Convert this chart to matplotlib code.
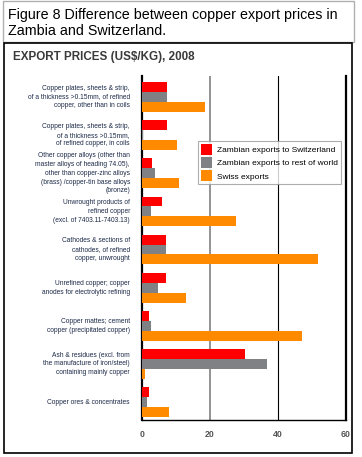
import numpy as np
import matplotlib
matplotlib.use("Agg")
import matplotlib.pyplot as plt
from matplotlib.patches import Rectangle, Patch

plt.rcParams['font.family'] = ['Liberation Sans Narrow', 'Liberation Sans', 'DejaVu Sans']

categories = [
    "Copper plates, sheets & strip,\nof a thickness >0.15mm, of refined\ncopper, other than in coils",
    "Copper plates, sheets & strip,\nof a thickness >0.15mm,\nof refined copper, in coils",
    "Other copper alloys (other than\nmaster alloys of heading 74.05),\nother than copper-zinc alloys\n(brass) /copper-tin base alloys\n(bronze)",
    "Unwrought products of\nrefined copper\n(excl. of 7403.11-7403.13)",
    "Cathodes & sections of\ncathodes, of refined\ncopper, unwrought",
    "Unrefined copper; copper\nanodes for electrolytic refining",
    "Copper mattes; cement\ncopper (precipitated copper)",
    "Ash & residues (excl. from\nthe manufacture of iron/steel)\ncontaining mainly copper",
    "Copper ores & concentrates",
]
zambia_to_swiss = [7.3, 7.3, 3.0, 5.8, 7.0, 7.0, 2.2, 30.2, 2.2]
zambia_to_rest = [7.3, 0.3, 3.8, 2.6, 7.0, 4.7, 2.7, 36.7, 1.6]
swiss_exports = [18.5, 10.3, 10.9, 27.6, 51.8, 13.0, 47.2, 0.9, 7.8]
series_names = ["Zambian exports to Switzerland", "Zambian exports to rest of world", "Swiss exports"]
colors = ["#ff0000", "#808184", "#ff8a00"]
xticks = [0, 20, 40, 60]

W, H = 362, 457
fig = plt.figure(figsize=(W / 100, H / 100), dpi=100)

# caption box and chart frame
fig.patches.append(Rectangle((3 / W, 1 - 42 / H), 351 / W, 41 / H, transform=fig.transFigure,
                             fill=False, edgecolor="#b0b0b0", linewidth=1))
fig.patches.append(Rectangle((4 / W, 1 - 453 / H), 348 / W, 410 / H, transform=fig.transFigure,
                             fill=False, edgecolor="black", linewidth=1.2))
fig.text(8 / W, 1 - 23 / H, "Figure 8 Difference between copper export prices in\nZambia and Switzerland.",
         fontsize=10.3, family=['Liberation Sans', 'DejaVu Sans'], va="center", ha="left",
         linespacing=1.2, color="black")
fig.text(13 / W, 1 - 57 / H, "EXPORT PRICES (US$/KG), 2008", fontsize=8.4, fontweight="bold",
         color="#3a3a3a", va="center", ha="left")

ax = fig.add_axes([142 / W, 1 - 420 / H, 204 / W, 344 / H])
y = np.arange(len(categories))
h = 0.26
for i, (vals, c, name) in enumerate(zip([zambia_to_swiss, zambia_to_rest, swiss_exports], colors, series_names)):
    ax.barh(y + (i - 1) * h, vals, height=h, color=c, label=name, zorder=3)

ax.set_xlim(0, 60)
ax.set_ylim(8.47, -0.55)
ax.axvline(20, color="#8a8a8a", linewidth=1.3, zorder=1)
ax.axvline(40, color="black", linewidth=0.8, zorder=1)
ax.set_yticks([])
ax.set_xticks(xticks)
ax.set_xticklabels([str(t) for t in xticks], fontsize=6.3, color="#555555", fontweight="bold")
ax.tick_params(axis="x", length=0, pad=7)
ax.spines["top"].set_visible(False)
ax.spines["left"].set_linewidth(1.6)
ax.spines["right"].set_linewidth(1.6)
ax.spines["bottom"].set_linewidth(1.0)

for yi, lab in zip(y, categories):
    ax.text(-0.059, yi, lab, transform=ax.get_yaxis_transform(), ha="right", va="center",
            fontsize=4.8, color="#1c2a48", linespacing=1.35, multialignment="right")

handles = [Patch(facecolor=c, edgecolor="none") for c in colors]
leg = ax.legend(handles, series_names, loc="upper left", bbox_to_anchor=(0.275, 0.811),
                fontsize=6, frameon=True, fancybox=False, edgecolor="#999999",
                handlelength=1.4, handleheight=1.7, handletextpad=0.6, labelspacing=0.25,
                borderpad=0.3, borderaxespad=0)
leg.get_frame().set_linewidth(0.8)
leg.set_zorder(5)

fig.savefig("out.png", dpi=100)
